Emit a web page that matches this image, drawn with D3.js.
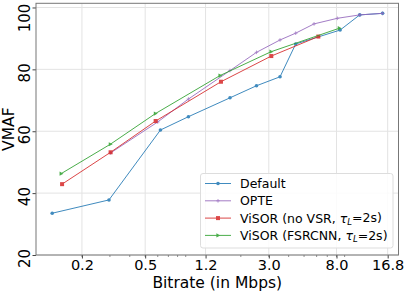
<!DOCTYPE html>
<html><head><meta charset="utf-8">
<script src="https://cdn.jsdelivr.net/npm/d3@7"></script>
<style>body{margin:0;background:#fff}svg{display:block;font-family:"DejaVu Sans",sans-serif}</style>
</head><body><svg id="c" width="407" height="292"></svg>
<script>
const defaultX = [0.13, 0.296, 0.624, 0.936, 1.71, 2.51, 3.53, 4.43, 8.43, 11.2, 15.6];
const defaultY = [33.5, 37.8, 60.4, 64.7, 70.8, 74.7, 77.6, 88.2, 92.7, 97.6, 98.1];
const opteX = [0.303, 0.6, 0.936, 1.71, 2.51, 3.53, 4.43, 5.78, 8.1, 11.2, 15.6];
const opteY = [53.0, 63.0, 70.4, 79.6, 85.5, 89.5, 91.7, 94.7, 96.5, 97.6, 98.1];
const novsrX = [0.150, 0.303, 0.582, 1.50, 3.11, 6.15];
const novsrY = [42.9, 53.2, 63.3, 76.0, 84.3, 90.6];
const fsrX = [0.148, 0.302, 0.58, 1.48, 3.1, 8.34];
const fsrY = [46.3, 55.8, 65.7, 78.0, 85.7, 93.3];
const xTicks = [0.2, 0.5, 1.2, 3.0, 8.0, 16.8];
const xTickLabels = ["0.2", "0.5", "1.2", "3.0", "8.0", "16.8"];
const yTicks = [20, 40, 60, 80, 100];
const seriesNames = ["Default", "OPTE", "ViSOR (no VSR, τL=2s)", "ViSOR (FSRCNN, τL=2s)"];

const svg = d3.select("#c");
const L = 36, R = 398.5, T = 3.3, B = 255;
const x = d3.scaleLog().domain([0.1028, 19.65]).range([L, R]);
const y = d3.scaleLinear().domain([20, 101.35]).range([B, T]);

// grid
const g = svg.append("g");
g.selectAll(".gx").data(xTicks).enter().append("line")
  .attr("x1", d => x(d)).attr("x2", d => x(d)).attr("y1", T).attr("y2", B)
  .attr("stroke", "#e3e3e3").attr("stroke-width", 1);
g.selectAll(".gy").data(yTicks).enter().append("line")
  .attr("x1", L).attr("x2", R).attr("y1", d => y(d)).attr("y2", d => y(d))
  .attr("stroke", "#e3e3e3").attr("stroke-width", 1);

// axes
const xAxis = d3.axisBottom(x).tickValues(xTicks).tickFormat((d, i) => xTickLabels[i]).tickSize(3.5).tickPadding(1);
const minor = [];
[0.1, 1, 10].forEach(dec => { for (let k = 2; k <= 9; k++) { const v = dec * k; if (v > 0.1028 && v < 19.65) minor.push(v); } });
const xa = svg.append("g").attr("transform", `translate(0,${B})`).call(xAxis);
xa.select(".domain").remove();
xa.selectAll("text").attr("font-size", 14.5).attr("fill", "#000").attr("font-family", "DejaVu Sans");
xa.selectAll("line").attr("stroke", "#444");
svg.append("g").selectAll("line").data(minor).enter().append("line")
  .attr("x1", d => x(d)).attr("x2", d => x(d)).attr("y1", B).attr("y2", B + 2)
  .attr("stroke", "#444").attr("stroke-width", 0.6);

const ya = svg.append("g").attr("transform", `translate(${L},0)`)
  .call(d3.axisLeft(y).tickValues(yTicks).tickSize(3.5).tickPadding(3));
ya.select(".domain").remove();
ya.selectAll("line").attr("stroke", "#444");
ya.selectAll("text").attr("font-size", 15).attr("fill", "#000").attr("font-family", "DejaVu Sans")
  .attr("text-anchor", "middle").attr("dy", null).attr("x", null).attr("y", null)
  .attr("transform", d => `translate(-11,${Math.max(3, 17.5 - y(d))}) rotate(-90)`).attr("dominant-baseline", "central");

// frame
svg.append("rect").attr("x", L).attr("y", T).attr("width", R - L).attr("height", B - T)
  .attr("fill", "none").attr("stroke", "#777").attr("stroke-width", 1);

// labels
svg.append("text").attr("x", (L + R) / 2).attr("y", 287.5).attr("text-anchor", "middle")
  .attr("font-size", 15.5).text("Bitrate (in Mbps)");
svg.append("text").attr("transform", `translate(14,${(T + B) / 2}) rotate(-90)`).attr("text-anchor", "middle")
  .attr("font-size", 15.5).text("VMAF");

const colors = ["#1f77b4", "#9467bd", "#d62728", "#2ca02c"];
const markers = ["circle", "plus", "square", "triangle"];
const series = [[defaultX, defaultY], [opteX, opteY], [novsrX, novsrY], [fsrX, fsrY]];
const line = d3.line().x(d => x(d[0])).y(d => y(d[1]));

function drawMarker(sel, type, color, cx, cy) {
  if (type === "circle") sel.append("circle").attr("cx", cx).attr("cy", cy).attr("r", 1.8).attr("fill", color);
  else if (type === "square") sel.append("rect").attr("x", cx - 2).attr("y", cy - 2).attr("width", 4).attr("height", 4).attr("fill", color);
  else if (type === "triangle") sel.append("path").attr("d", `M${cx + 2.3},${cy} L${cx - 1.6},${cy - 2.1} L${cx - 1.6},${cy + 2.1}Z`).attr("fill", color);
  else sel.append("path").attr("d", `M${cx - 1.8},${cy} H${cx + 1.8} M${cx},${cy - 1.8} V${cy + 1.8}`).attr("stroke", color).attr("stroke-width", 0.8);
}

const plot = svg.append("g");
series.forEach((s, i) => {
  const pts = s[0].map((v, j) => [v, s[1][j]]);
  const gg = plot.append("g").attr("opacity", 0.85);
  gg.append("path").datum(pts).attr("d", line).attr("fill", "none").attr("stroke", colors[i]).attr("stroke-width", 1);
  pts.forEach(p => drawMarker(gg, markers[i], colors[i], x(p[0]), y(p[1])));
});

// legend
const lg = svg.append("g");
lg.append("rect").attr("x", 200.5).attr("y", 173.5).attr("width", 192.5).attr("height", 74.5).attr("rx", 2.5)
  .attr("fill", "#fff").attr("fill-opacity", 0.85).attr("stroke", "#ddd").attr("stroke-width", 1);
seriesNames.forEach((name, i) => {
  const yy = 183.5 + i * 17.3;
  const gi = lg.append("g").attr("opacity", 0.85);
  gi.append("line").attr("x1", 205).attr("x2", 231).attr("y1", yy).attr("y2", yy).attr("stroke", colors[i]).attr("stroke-width", 1);
  drawMarker(gi, markers[i], colors[i], 218, yy);
  const t = lg.append("text").attr("x", 240).attr("y", yy).attr("dy", "0.36em").attr("font-size", 12.5);
  if (name.includes("τL")) {
    const parts = name.split("τL");
    t.append("tspan").text(parts[0]);
    t.append("tspan").attr("font-style", "italic").text("τ");
    t.append("tspan").attr("font-style", "italic").attr("font-size", 8.5).attr("dy", "0.25em").text("L");
    t.append("tspan").attr("dy", "-0.2em").text(parts[1]);
  } else t.text(name);
});
</script></body></html>
